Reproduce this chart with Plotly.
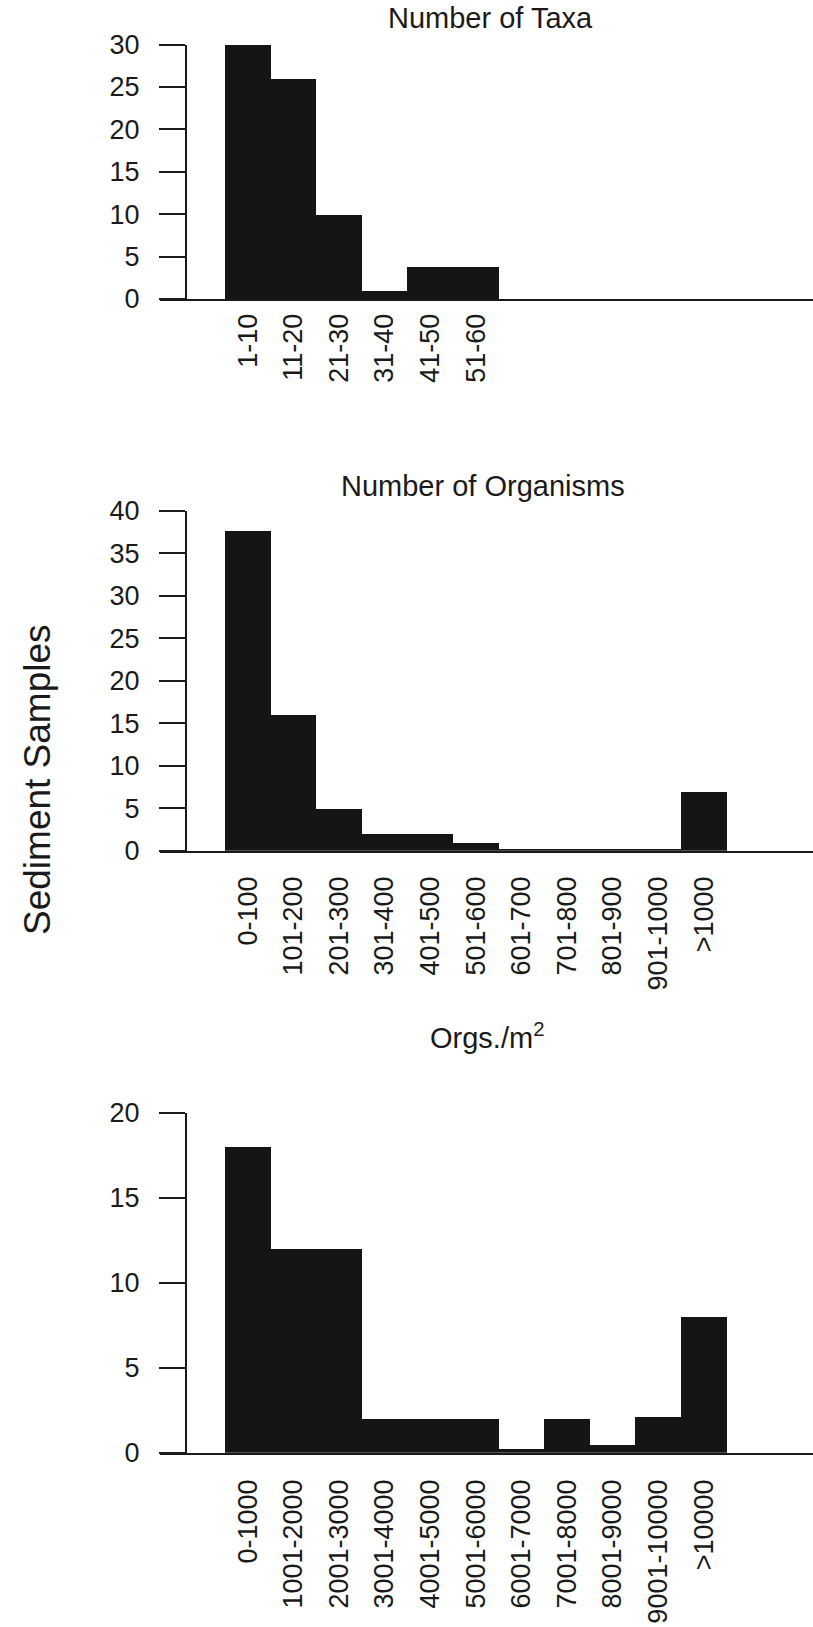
import plotly.graph_objects as go

W, H = 813, 1627

# ---- data ----
taxa_cats = ["1-10", "11-20", "21-30", "31-40", "41-50", "51-60"]
taxa_vals = [30, 26, 10, 1, 3.8, 3.8]

org_cats = ["0-100", "101-200", "201-300", "301-400", "401-500", "501-600",
            "601-700", "701-800", "801-900", "901-1000", ">1000"]
org_vals = [37.6, 16, 5, 2, 2, 1, 0.2, 0.2, 0.2, 0.2, 7]

dens_cats = ["0-1000", "1001-2000", "2001-3000", "3001-4000", "4001-5000", "5001-6000",
             "6001-7000", "7001-8000", "8001-9000", "9001-10000", ">10000"]
dens_vals = [18, 12, 12, 2, 2, 2, 0.25, 2, 0.5, 2.1, 8]

titles = ["Number of Taxa", "Number of Organisms", "Orgs./m<sup>2</sup>"]
y_ranges = [[0, 30], [0, 40], [0, 20]]
y_axis_title = "Sediment Samples"

# ---- layout geometry (pixels) ----
def fx(px):
    return px / W

def fy(py):
    return 1 - py / H

x_left, x_right = 160, 813
yaxis_x = 186
bar_start, bar_w = 225, 45.6
xr = [-0.5 - (bar_start - x_left) / bar_w, -0.5 + (x_right - bar_start) / bar_w]
panels_px = [(299, 44.5), (850.7, 510.7), (1452.7, 1112.7)]
title_px = [(490, 18), (483, 486), (487, 1036)]
label_standoff = [2, 13, 14]

FONT = "Liberation Sans, Arial, sans-serif"
TXT = "#1a1a1a"
BAR = "#151515"

fig = go.Figure()
datasets = [(taxa_cats, taxa_vals), (org_cats, org_vals), (dens_cats, dens_vals)]
for i, (cats, vals) in enumerate(datasets):
    sfx = "" if i == 0 else str(i + 1)
    fig.add_trace(go.Bar(
        x=cats, y=vals, xaxis="x" + sfx, yaxis="y" + sfx,
        marker=dict(color=BAR, line=dict(width=0)),
        showlegend=False, hoverinfo="x+y",
    ))

layout = dict(
    width=W, height=H,
    margin=dict(l=0, r=0, t=0, b=0, autoexpand=False),
    paper_bgcolor="white", plot_bgcolor="white",
    bargap=0,
    font=dict(family=FONT, color=TXT, size=27),
    annotations=[],
)
for i in range(3):
    sfx = "" if i == 0 else str(i + 1)
    y0, y1 = panels_px[i]
    layout["xaxis" + sfx] = dict(
        domain=[fx(x_left), fx(x_right)], anchor="y" + sfx, automargin=False,
        type="category", range=xr, showline=True, linecolor="#1a1a1a", linewidth=2,
        ticks="", tickangle=-90, showgrid=False, zeroline=False,
        tickfont=dict(family=FONT, size=27, color=TXT),
        ticklabelstandoff=label_standoff[i],
        fixedrange=True,
    )
    layout["yaxis" + sfx] = dict(
        domain=[fy(y0), fy(y1)], anchor="free", position=fx(yaxis_x), automargin=False,
        range=y_ranges[i], dtick=5, tick0=0, showline=True, linecolor="#1a1a1a",
        linewidth=2, ticks="outside", ticklen=26, tickwidth=2, tickcolor="#1a1a1a",
        showgrid=False, zeroline=False,
        tickfont=dict(family=FONT, size=27, color=TXT), ticklabelstandoff=14,
        fixedrange=True,
    )
    tx, ty = title_px[i]
    layout["annotations"].append(dict(
        text=titles[i], x=fx(tx), y=fy(ty), xref="paper", yref="paper",
        xanchor="center", yanchor="middle", showarrow=False,
        font=dict(family=FONT, size=29, color=TXT),
    ))

layout["annotations"].append(dict(
    text=y_axis_title, x=fx(37), y=fy(780), xref="paper", yref="paper",
    xanchor="center", yanchor="middle", textangle=-90, showarrow=False,
    font=dict(family=FONT, size=37, color=TXT),
))

fig.update_layout(**layout)
fig.write_html("out.html")
